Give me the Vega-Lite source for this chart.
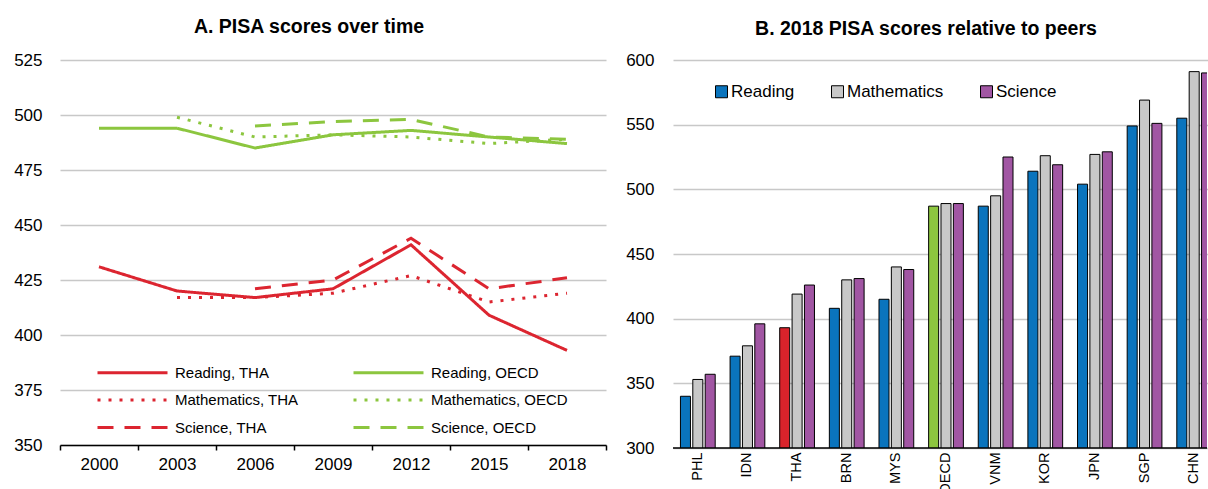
{
  "$schema": "https://vega.github.io/schema/vega-lite/v6.json",
  "padding": {"left": 13, "top": 16, "right": 0, "bottom": 0},
  "spacing": 18,
  "resolve": {"scale": {"color": "independent", "strokeDash": "independent", "fill": "independent"}, "legend": {"color": "independent", "strokeDash": "independent", "fill": "independent"}},
  "config": {
    "font": "Liberation Sans",
    "view": {"stroke": null},
    "axis": {"labelFont": "Liberation Sans", "labelColor": "black"},
    "legend": {"labelFont": "Liberation Sans", "labelColor": "black"},
    "title": {"font": "Liberation Sans", "fontWeight": "bold", "fontSize": 19.5, "color": "black"}
  },
  "hconcat": [
    {
      "width": 546,
      "height": 385,
      "title": {"text": "A. PISA scores over time", "offset": 14, "dx": -24},
      "data": {"values": [
        {"series": "Reading, THA", "year": "2000", "score": 431},
        {"series": "Reading, THA", "year": "2003", "score": 420},
        {"series": "Reading, THA", "year": "2006", "score": 417},
        {"series": "Reading, THA", "year": "2009", "score": 421},
        {"series": "Reading, THA", "year": "2012", "score": 441},
        {"series": "Reading, THA", "year": "2015", "score": 409},
        {"series": "Reading, THA", "year": "2018", "score": 393},
        {"series": "Mathematics, THA", "year": "2003", "score": 417},
        {"series": "Mathematics, THA", "year": "2006", "score": 417},
        {"series": "Mathematics, THA", "year": "2009", "score": 419},
        {"series": "Mathematics, THA", "year": "2012", "score": 427},
        {"series": "Mathematics, THA", "year": "2015", "score": 415},
        {"series": "Mathematics, THA", "year": "2018", "score": 419},
        {"series": "Science, THA", "year": "2006", "score": 421},
        {"series": "Science, THA", "year": "2009", "score": 425},
        {"series": "Science, THA", "year": "2012", "score": 444},
        {"series": "Science, THA", "year": "2015", "score": 421},
        {"series": "Science, THA", "year": "2018", "score": 426},
        {"series": "Reading, OECD", "year": "2000", "score": 494},
        {"series": "Reading, OECD", "year": "2003", "score": 494},
        {"series": "Reading, OECD", "year": "2006", "score": 485},
        {"series": "Reading, OECD", "year": "2009", "score": 491},
        {"series": "Reading, OECD", "year": "2012", "score": 493},
        {"series": "Reading, OECD", "year": "2015", "score": 490},
        {"series": "Reading, OECD", "year": "2018", "score": 487},
        {"series": "Mathematics, OECD", "year": "2003", "score": 499},
        {"series": "Mathematics, OECD", "year": "2006", "score": 490},
        {"series": "Mathematics, OECD", "year": "2009", "score": 491},
        {"series": "Mathematics, OECD", "year": "2012", "score": 490},
        {"series": "Mathematics, OECD", "year": "2015", "score": 487},
        {"series": "Mathematics, OECD", "year": "2018", "score": 489},
        {"series": "Science, OECD", "year": "2006", "score": 495},
        {"series": "Science, OECD", "year": "2009", "score": 497},
        {"series": "Science, OECD", "year": "2012", "score": 498},
        {"series": "Science, OECD", "year": "2015", "score": 490},
        {"series": "Science, OECD", "year": "2018", "score": 489}
      ]},
      "mark": {"type": "line", "strokeWidth": 3},
      "encoding": {
        "x": {
          "field": "year", "type": "ordinal",
          "scale": {"type": "band", "paddingInner": 0, "paddingOuter": 0},
          "axis": {"title": null, "labelAngle": 0, "labelFontSize": 17, "labelPadding": 6, "domainColor": "black", "domainWidth": 1.5, "ticks": true, "tickBand": "extent", "tickColor": "black", "tickWidth": 1.5, "tickSize": 5, "grid": false}
        },
        "y": {
          "field": "score", "type": "quantitative",
          "scale": {"domain": [350, 525], "nice": false, "zero": false},
          "axis": {"title": null, "values": [350, 375, 400, 425, 450, 475, 500, 525], "labelFontSize": 17, "labelPadding": 18, "domain": false, "ticks": false, "tickSize": 0, "gridColor": "#c8c8c8", "gridWidth": 1.5}
        },
        "color": {
          "field": "series", "type": "nominal",
          "scale": {
            "domain": ["Reading, THA", "Mathematics, THA", "Science, THA", "Reading, OECD", "Mathematics, OECD", "Science, OECD"],
            "range": ["#dc2530", "#dc2530", "#dc2530", "#8cc63f", "#8cc63f", "#8cc63f"]
          },
          "legend": {"title": null, "orient": "none", "legendX": 61, "legendY": 301, "columns": 2, "symbolType": "M-3.5,0H3.5", "symbolSize": 400, "symbolStrokeWidth": 3, "labelFontSize": 15, "labelOffset": 31, "columnPadding": 48, "rowPadding": 7.5, "labelLimit": 300}
        },
        "strokeDash": {
          "field": "series", "type": "nominal",
          "scale": {
            "domain": ["Reading, THA", "Mathematics, THA", "Science, THA", "Reading, OECD", "Mathematics, OECD", "Science, OECD"],
            "range": [[1, 0], [3, 8], [16, 11], [1, 0], [3, 8], [16, 11]]
          },
          "legend": {"title": null, "orient": "none", "legendX": 61, "legendY": 301, "columns": 2, "symbolType": "M-3.5,0H3.5", "symbolSize": 400, "symbolStrokeWidth": 3, "labelFontSize": 15, "labelOffset": 31, "columnPadding": 48, "rowPadding": 7.5, "labelLimit": 300}
        }
      }
    },
    {
      "width": 534,
      "height": 388,
      "title": {"text": "B. 2018 PISA scores relative to peers", "offset": 12, "dx": -14},
      "data": {"values": [
        {"country": "PHL", "subject": "Reading", "score": 340},
        {"country": "PHL", "subject": "Mathematics", "score": 353},
        {"country": "PHL", "subject": "Science", "score": 357},
        {"country": "IDN", "subject": "Reading", "score": 371},
        {"country": "IDN", "subject": "Mathematics", "score": 379},
        {"country": "IDN", "subject": "Science", "score": 396},
        {"country": "THA", "subject": "Reading", "score": 393},
        {"country": "THA", "subject": "Mathematics", "score": 419},
        {"country": "THA", "subject": "Science", "score": 426},
        {"country": "BRN", "subject": "Reading", "score": 408},
        {"country": "BRN", "subject": "Mathematics", "score": 430},
        {"country": "BRN", "subject": "Science", "score": 431},
        {"country": "MYS", "subject": "Reading", "score": 415},
        {"country": "MYS", "subject": "Mathematics", "score": 440},
        {"country": "MYS", "subject": "Science", "score": 438},
        {"country": "OECD", "subject": "Reading", "score": 487},
        {"country": "OECD", "subject": "Mathematics", "score": 489},
        {"country": "OECD", "subject": "Science", "score": 489},
        {"country": "VNM", "subject": "Reading", "score": 487},
        {"country": "VNM", "subject": "Mathematics", "score": 495},
        {"country": "VNM", "subject": "Science", "score": 525},
        {"country": "KOR", "subject": "Reading", "score": 514},
        {"country": "KOR", "subject": "Mathematics", "score": 526},
        {"country": "KOR", "subject": "Science", "score": 519},
        {"country": "JPN", "subject": "Reading", "score": 504},
        {"country": "JPN", "subject": "Mathematics", "score": 527},
        {"country": "JPN", "subject": "Science", "score": 529},
        {"country": "SGP", "subject": "Reading", "score": 549},
        {"country": "SGP", "subject": "Mathematics", "score": 569},
        {"country": "SGP", "subject": "Science", "score": 551},
        {"country": "CHN", "subject": "Reading", "score": 555},
        {"country": "CHN", "subject": "Mathematics", "score": 591},
        {"country": "CHN", "subject": "Science", "score": 590}
      ]},
      "layer": [
        {
          "mark": {"type": "bar", "stroke": "black", "strokeWidth": 1, "clip": true},
          "encoding": {
            "x": {
              "field": "country", "type": "nominal", "sort": null,
              "scale": {"range": [0, 546], "paddingInner": 0.3, "paddingOuter": 0.15},
              "axis": {"title": null, "labelAngle": -90, "labelFontSize": 14.5, "labelPadding": 4, "domain": false, "ticks": false, "grid": false}
            },
            "xOffset": {
              "field": "subject", "type": "nominal", "sort": ["Reading", "Mathematics", "Science"],
              "scale": {"paddingInner": 0.19, "paddingOuter": 0}
            },
            "y": {
              "field": "score", "type": "quantitative",
              "scale": {"domain": [300, 600], "nice": false, "zero": false},
              "axis": {"title": null, "values": [300, 350, 400, 450, 500, 550, 600], "labelFontSize": 17, "labelPadding": 19, "domain": false, "ticks": false, "tickSize": 0, "gridColor": "#c8c8c8", "gridWidth": 1.5}
            },
            "fill": {
              "field": "subject", "type": "nominal",
              "scale": {"domain": ["Reading", "Mathematics", "Science"], "range": ["#0a74bd", "#c8c8c8", "#a156a3"]},
              "condition": [
                {"test": "datum.country === 'THA' && datum.subject === 'Reading'", "value": "#d9232b"},
                {"test": "datum.country === 'OECD' && datum.subject === 'Reading'", "value": "#8dc63f"}
              ],
              "legend": {"title": null, "orient": "none", "direction": "horizontal", "legendX": 40, "legendY": 23, "symbolType": "square", "symbolSize": 144, "symbolStrokeColor": "black", "symbolStrokeWidth": 1, "labelFontSize": 17, "labelOffset": 1, "columnPadding": 34}
            }
          }
        },
        {
          "data": {"values": [{}]},
          "mark": {"type": "rule", "color": "black", "strokeWidth": 1.5},
          "encoding": {"y": {"datum": 300}}
        }
      ]
    }
  ]
}
